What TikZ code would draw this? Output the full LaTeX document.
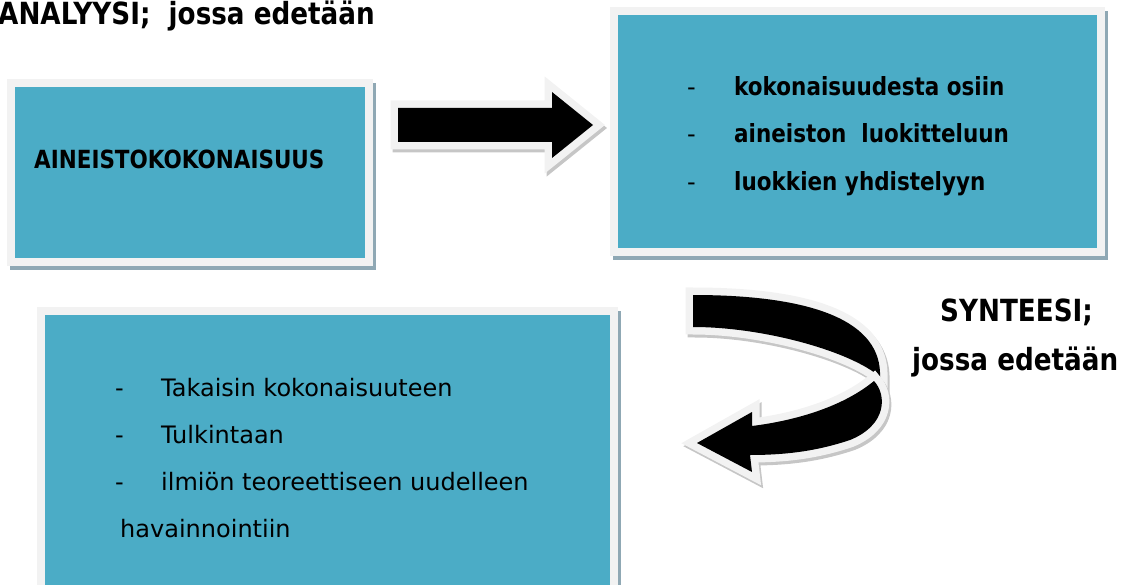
\documentclass[tikz,border=0pt]{standalone}
\usepackage{fontspec}
\setmainfont{DejaVu Sans}[BoldFeatures={FakeStretch=0.86}]
\usepackage{tikz}

\definecolor{boxblue}{RGB}{75,172,198}
\definecolor{framegray}{RGB}{242,242,242}
\definecolor{boxshadow}{RGB}{143,168,180}
\definecolor{arrowshadow}{RGB}{198,198,198}

\tikzset{
  box/.style={rectangle, fill=boxblue, draw=framegray, line width=8pt, inner sep=0pt,
    preaction={draw=boxshadow, fill=boxshadow, line width=8pt, transform canvas={shift={(3pt,-4pt)}}}},
  blockarrow/.style={fill=black, line join=miter, miter limit=3,
    preaction={draw=arrowshadow, fill=arrowshadow, line width=15pt, line join=miter, miter limit=3, transform canvas={shift={(2pt,-3pt)}}},
    preaction={draw=framegray, line width=15pt, line join=miter, miter limit=3}},
  heading/.style={anchor=base west, inner sep=0pt, font=\fontsize{30.5}{36}\selectfont\bfseries},
  boldline/.style={anchor=base west, inner sep=0pt, font=\fontsize{25}{30}\selectfont\bfseries},
  plainline/.style={anchor=base west, inner sep=0pt, font=\fontsize{24}{29}\selectfont},
}

\begin{document}
\begin{tikzpicture}[x=1pt,y=-1pt]
\useasboundingbox (0,0) rectangle (1121,585);

%Shape: Rectangle [aineisto]
\node[box, minimum width=358pt, minimum height=179pt] (aineisto) at (190,172.5) {};
%Shape: Rectangle [analyysi]
\node[box, minimum width=487pt, minimum height=241pt] (analyysi) at (857.5,132) {};
%Shape: Rectangle [synteesi]
\node[box, minimum width=573pt, minimum height=279pt] (synteesi) at (327,450.5) {};

%Shape: Right Arrow
\fill[blockarrow] (398,108) -- (552,108) -- (552,92) -- (593,125) -- (552,158) -- (552,142) -- (398,142) -- cycle;

%Shape: Curved Arrow, upper part
\fill[blockarrow] (693,295) .. controls (815,295) and (882,322) .. (880,377) .. controls (852,352) and (765,327) .. (693,327) -- cycle;
%Shape: Curved Arrow, lower part
\fill[blockarrow] (874,381) .. controls (887,395) and (887,425) .. (850,440) .. controls (820,450) and (790,455) .. (750,455) -- (752,472) -- (697,443) -- (752,412) -- (752,426) .. controls (800,420) and (845,405) .. (874,381) -- cycle;

% Text Node
\node[heading] (analyysititle) at (-2,25) {ANALYYSI;\ \ jossa edetään};
% Text Node
\node[boldline] (aineistotext) at (34,169) {AINEISTOKOKONAISUUS};

% Text Node
\node[plainline] (dasha) at (687,96) {-};
\node[boldline] (osiin) at (734,96) {kokonaisuudesta osiin};
% Text Node
\node[plainline] (dashb) at (687,143) {-};
\node[boldline] (luokittelu) at (734,143) {aineiston\ \ luokitteluun};
% Text Node
\node[plainline] (dashc) at (687,191) {-};
\node[boldline] (yhdistely) at (734,191) {luokkien yhdistelyyn};

% Text Node
\node[heading] (synteesititle) at (940,321) {SYNTEESI;};
\node[heading] (synteesisub) at (912,370) {jossa edetään};

% Text Node
\node[plainline] (dashd) at (115,396) {-};
\node[plainline] (takaisin) at (161,396) {Takaisin kokonaisuuteen};
% Text Node
\node[plainline] (dashe) at (115,443) {-};
\node[plainline] (tulkinta) at (161,443) {Tulkintaan};
% Text Node
\node[plainline] (dashf) at (115,490) {-};
\node[plainline] (ilmio) at (161,490) {ilmiön teoreettiseen uudelleen};
\node[plainline] (havainnointi) at (120,537) {havainnointiin};

\end{tikzpicture}
\end{document}
